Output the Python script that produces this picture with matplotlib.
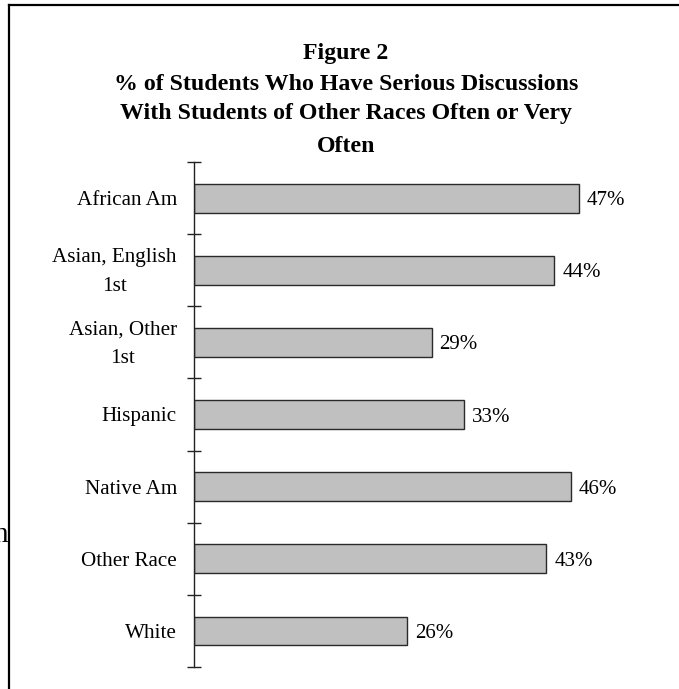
import matplotlib
matplotlib.use("Agg")
import matplotlib.pyplot as plt
from matplotlib.lines import Line2D

categories = ["African Am", "Asian, English\n1st", "Asian, Other\n1st", "Hispanic",
              "Native Am", "Other Race", "White"]
values = [47, 44, 29, 33, 46, 43, 26]
value_labels = ["47%", "44%", "29%", "33%", "46%", "43%", "26%"]
title_lines = ["Figure 2",
               "% of Students Who Have Serious Discussions",
               "With Students of Other Races Often or Very",
               "Often"]

W, H = 679, 689
DPI = 100
PT = 72 / DPI  # points per pixel
fig = plt.figure(figsize=(W / DPI, H / DPI), dpi=DPI)
plt.rcParams['font.family'] = ['Liberation Serif', 'DejaVu Serif']

# axes placement (pixels)
x0, y_top, y_bot = 194, 162, 667
xmax = 55
px_per = 8.19
ax = fig.add_axes([x0 / W, (H - y_bot) / H, xmax * px_per / W, (y_bot - y_top) / H])
ax.set_xlim(0, xmax)
n = len(categories)
ax.set_ylim(n - 0.5, -0.5)

pos = list(range(n))
ax.barh(pos, values, height=0.4, color="#c0c0c0", edgecolor="#2a2a2a", linewidth=1.0)
for p, v, lab in zip(pos, values, value_labels):
    ax.annotate(lab, (v, p), xytext=(8 * PT, -7 * PT), textcoords="offset points",
                ha="left", va="baseline", fontsize=15, color="black")

for s in ["top", "right", "bottom"]:
    ax.spines[s].set_visible(False)
ax.spines["left"].set_color("#222222")
ax.spines["left"].set_linewidth(1.0)
ax.set_xticks([])
ax.set_yticks([p - 0.5 for p in range(n + 1)])
ax.set_yticklabels([])
ax.tick_params(axis="y", which="major", direction="inout", length=10, width=1.0, color="#222222")

# category labels: right edge 17 px left of the axis; multi-line centred within block
for p, cat in zip(pos, categories):
    lines = cat.split("\n")
    if len(lines) == 1:
        ax.annotate(cat, (0, p), xytext=(-17 * PT, -7 * PT), textcoords="offset points",
                    ha="right", va="baseline", fontsize=15.2, annotation_clip=False)
    else:
        ax.annotate(cat, (0, p), xytext=(-17 * PT, -21 * PT), textcoords="offset points",
                    ha="right", va="baseline", fontsize=15.2, multialignment="center",
                    linespacing=1.72, annotation_clip=False)

# title, line by line (baselines in pixels from top)
for line, yb in zip(title_lines, [59.5, 90, 119.5, 151.5]):
    fig.text(346 / W, 1 - yb / H, line, ha="center", va="baseline", fontsize=17.2,
             fontweight="bold")

# frame
fig.add_artist(Line2D([8.5 / W, 1], [1 - 5 / H, 1 - 5 / H], color="black", lw=1.6,
                      transform=fig.transFigure))
fig.add_artist(Line2D([8.5 / W, 8.5 / W], [1 - 5 / H, 0], color="black", lw=1.6,
                      transform=fig.transFigure))
fig.text(8 / W, 1 - 542 / H, "n", ha="right", va="baseline", fontsize=21)

fig.savefig("out.png", dpi=DPI)
